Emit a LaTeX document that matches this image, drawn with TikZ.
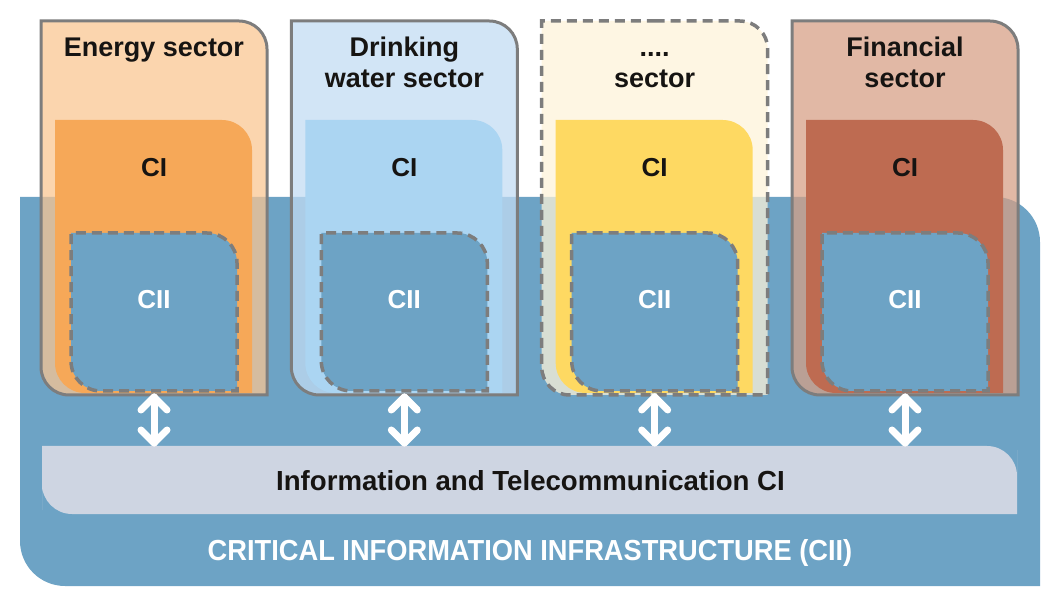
\documentclass[tikz,border=0pt]{standalone}
\usepackage{fontspec}
\setmainfont{Liberation Sans}
\definecolor{ciiblue}{HTML}{6DA3C5}
\definecolor{bordgray}{HTML}{7D7D7D}
\definecolor{ink}{HTML}{161412}
\definecolor{enO}{RGB}{250,198,146}
\definecolor{enC}{HTML}{F6A858}
\definecolor{waO}{RGB}{194,220,243}
\definecolor{waC}{HTML}{ABD5F2}
\definecolor{doO}{RGB}{254,243,217}
\definecolor{doC}{HTML}{FED962}
\definecolor{fiO}{RGB}{214,159,133}
\definecolor{fiC}{HTML}{BE6B51}
\definecolor{ictfill}{HTML}{CED5E2}
% #1 style, (#2,#3) top-left, (#4,#5) bottom-right, #6 radius: top-right and bottom-left corners rounded
\newcommand\trblshape[6]{%
  \path[#1] ({(#2+#4)/2},#3) [rounded corners=#6pt] -- (#4,#3) -- (#4,{(#3+#5)/2})
    [sharp corners] -- (#4,#5) -- ({(#2+#4)/2},#5)
    [rounded corners=#6pt] -- (#2,#5) -- (#2,{(#3+#5)/2})
    [sharp corners] -- (#2,#3) -- cycle;}
\tikzset{
  solidb/.style={draw=bordgray, line width=3pt},
  dashb/.style={draw=bordgray, line width=3.5pt, dash pattern=on 10pt off 6pt},
  ciibox/.style={fill=ciiblue, draw=bordgray, line width=3.5pt, dash pattern=on 10pt off 6pt},
  title/.style={font=\fontsize{27}{31}\selectfont\bfseries, text=ink, anchor=base, inner sep=0pt},
  lbl/.style={font=\fontsize{26}{30}\selectfont\bfseries, inner sep=0pt},
  chev/.style={draw=white, line width=7pt, line cap=round, line join=round},
}
\begin{document}
\begin{tikzpicture}[x=1pt,y=-1pt]
\useasboundingbox (0,0) rectangle (1058,601);
% CII background
\trblshape{fill=ciiblue}{20}{197}{1040}{586}{45}
% sectors
\foreach \i/\d/\oc/\cc/\bs in {1/0/enO/enC/solidb, 2/250.3/waO/waC/solidb, 3/500.7/doO/doC/dashb, 4/751/fiO/fiC/solidb}{
  \trblshape{fill=\oc, fill opacity=0.74}{41+\d}{21}{267+\d}{395}{28}
  \trblshape{fill=\cc}{55+\d}{120}{252+\d}{393}{30}
  \trblshape{\bs}{41+\d}{21}{267+\d}{395}{28}
  \trblshape{ciibox}{71+\d}{233}{237+\d}{391}{30}
  \node[lbl, text=ink] (ci\i) at (154+\d,168) {CI};
  \node[lbl, text=white] (cii\i) at (154+\d,300) {CII};
  \coordinate (up\i) at (154+\d,397);
  \coordinate (dn\i) at (154+\d,443);
}
% sector titles
\node[title] (t1) at (154,57) {Energy sector};
\node[title] (t2a) at (404.3,57) {Drinking};
\node[title] (t2b) at (404.3,88) {water sector};
\node[title] (t3a) at (654.7,57) {....};
\node[title] (t3b) at (654.7,88) {sector};
\node[title] (t4a) at (905,57) {Financial};
\node[title] (t4b) at (905,88) {sector};
% ICT CI
\trblshape{fill=ictfill}{42}{446}{1017}{514}{30}
\node[font=\fontsize{27.6}{31}\selectfont\bfseries, text=ink, inner sep=0pt] (ict) at (530.5,480.5) {Information and Telecommunication CI};
\node[font=\fontsize{29}{33}\selectfont\bfseries\addfontfeature{FakeStretch=0.94}, text=white, inner sep=0pt] (ciit) at (530,553) {CRITICAL INFORMATION INFRASTRUCTURE (CII)};
% arrows
\foreach \i in {1,2,3,4}{
  \draw[chev] (up\i) -- (dn\i);
  \draw[chev] ([shift={(-13,13)}]up\i) -- (up\i) -- ([shift={(13,13)}]up\i);
  \draw[chev] ([shift={(-13,-13)}]dn\i) -- (dn\i) -- ([shift={(13,-13)}]dn\i);
}
\end{tikzpicture}
\end{document}
